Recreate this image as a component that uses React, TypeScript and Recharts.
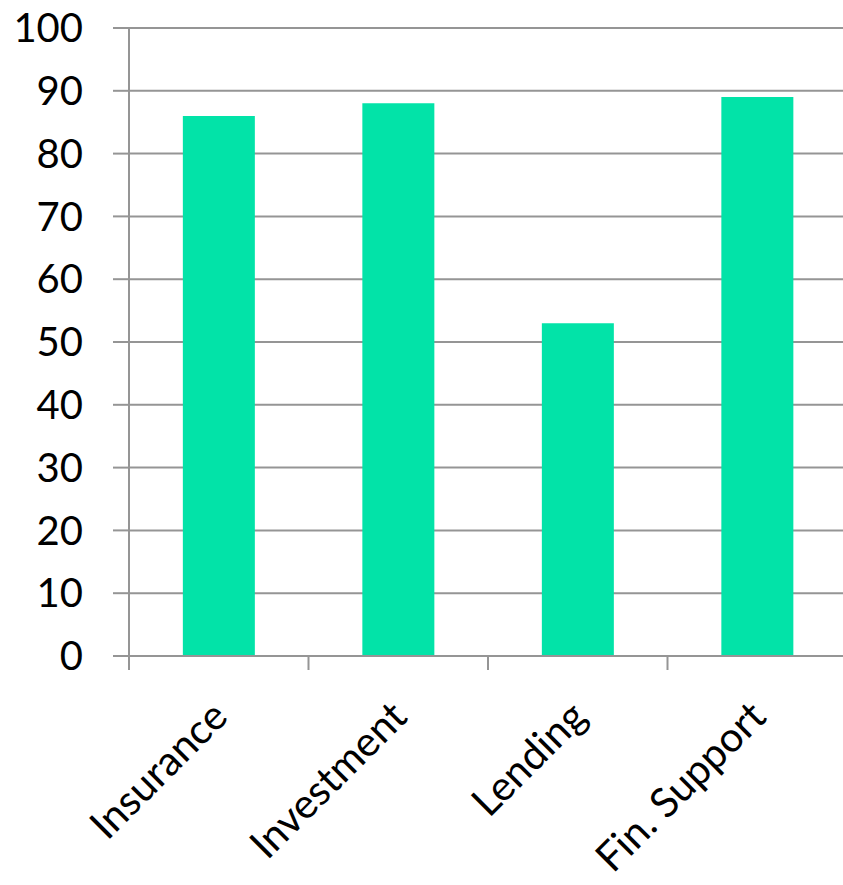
import React from 'react';
import { BarChart, Bar, XAxis, YAxis, CartesianGrid } from 'recharts';

const categories = ['Insurance', 'Investment', 'Lending', 'Fin. Support'];
const values = [86, 88, 53, 89];
const yTicks = [0, 10, 20, 30, 40, 50, 60, 70, 80, 90, 100];

const data = categories.map((name, i) => ({ name, value: values[i] }));

const FONT = 'Lato, "Open Sans", sans-serif';
const GRID = '#959595';

// Excel puts the category tick marks on the band edges, not the centres
function CategoryTick(props: any) {
    const { x, y, payload } = props;
    const half = payload.offset || 0;
    const lx = x + 11;
    const ly = y + 63;
    return (
        <g>
            <line x1={x - half} y1={y} x2={x - half} y2={y + 14} stroke={GRID} strokeWidth={2} />
            <text
                x={lx}
                y={ly}
                transform={`rotate(-45, ${lx}, ${ly})`}
                textAnchor="end"
                fontSize={41}
                fontFamily={FONT}
                fill="#000"
            >
                {payload.value}
            </text>
        </g>
    );
}

export default function App() {
    return (
        <div style={{ position: 'absolute', left: 0, top: 0, width: 843, height: 885, overflow: 'hidden', background: '#fff' }}>
            <BarChart
                width={850}
                height={885}
                data={data}
                margin={{ top: 28, right: 3, bottom: 0, left: 0 }}
                barCategoryGap="30%"
            >
                <CartesianGrid vertical={false} stroke={GRID} strokeWidth={2} />
                <XAxis
                    dataKey="name"
                    height={229}
                    interval={0}
                    tickSize={0}
                    tickMargin={0}
                    axisLine={{ stroke: GRID, strokeWidth: 2 }}
                    tick={<CategoryTick />}
                />
                <YAxis
                    width={129}
                    domain={[0, 100]}
                    ticks={yTicks}
                    interval={0}
                    tickSize={16}
                    tickMargin={30}
                    axisLine={{ stroke: GRID, strokeWidth: 2 }}
                    tickLine={{ stroke: GRID, strokeWidth: 2 }}
                    tick={{ fontSize: 40, fontFamily: FONT, fill: '#000' }}
                />
                <Bar dataKey="value" fill="#02E3A8" isAnimationActive={false} />
            </BarChart>
        </div>
    );
}
